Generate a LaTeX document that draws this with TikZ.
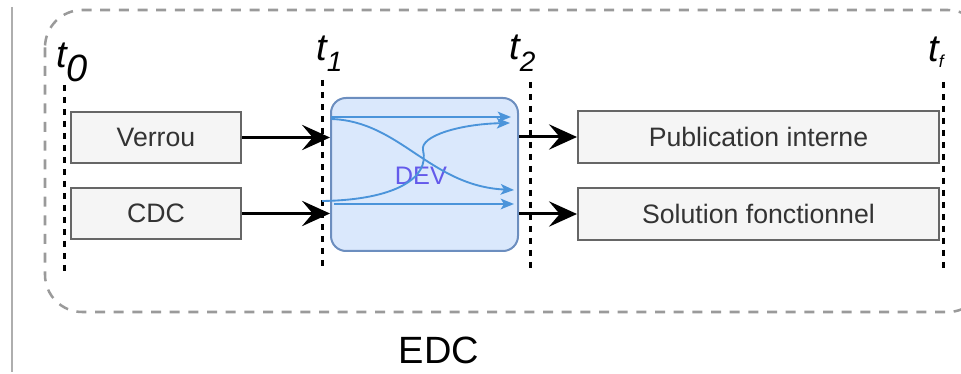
\documentclass[tikz,border=0pt]{standalone}
\usepackage{fontspec}
\setmainfont{Liberation Sans}
\usetikzlibrary{arrows.meta}
\definecolor{boxfill}{HTML}{F5F5F5}
\definecolor{boxline}{HTML}{666666}
\definecolor{boxtext}{HTML}{333333}
\definecolor{devfill}{HTML}{DAE8FC}
\definecolor{devline}{HTML}{6C8EBF}
\definecolor{devtext}{RGB}{100,90,235}
\definecolor{flow}{RGB}{75,148,218}
\definecolor{frame}{HTML}{9A9A9A}
\tikzset{
  greybox/.style={draw=boxline, fill=boxfill, line width=1.5pt, inner sep=0pt,
    anchor=north west, text=boxtext, font=\fontsize{20pt}{20pt}\selectfont},
  devbox/.style={draw=devline, fill=devfill, line width=1.5pt, rounded corners=11.25pt,
    inner sep=0pt, anchor=north west, minimum width=140.25pt, minimum height=114.75pt},
  tline/.style={line width=2.25pt, dash pattern=on 4.5pt off 4.5pt},
  bigarrow/.style={line width=2.25pt, -{Stealth[length=21pt,width=19pt,inset=8pt]}},
  flowarrow/.style={draw=flow, line width=1.4pt, -{Stealth[length=10pt,width=8pt,inset=2.5pt]}},
  tlab/.style={anchor=base west, inner sep=0pt, font=\fontsize{28.5pt}{28.5pt}\selectfont\itshape}
}
\begin{document}
\begin{tikzpicture}[x=0.75pt,y=-0.75pt]
\useasboundingbox (0,0) rectangle (961,374);
\clip (0,0) rectangle (961,374);
% left grey line
\coordinate (la) at (12,7);
\coordinate (lb) at (12,372);
\draw[color=frame!80, line width=1.2pt] (la) -- (lb);
% dashed frame
\draw[frame, line width=1.9pt, dash pattern=on 7.5pt off 6.5pt, rounded corners=28pt]
  (45,10) rectangle (985,312);
% time lines
\coordinate (t0a) at (64,85);  \coordinate (t0b) at (64,277);
\coordinate (t1a) at (322,80); \coordinate (t1b) at (322,270);
\coordinate (t2a) at (530,82); \coordinate (t2b) at (530,272);
\coordinate (tfa) at (943,82); \coordinate (tfb) at (943,272);
\draw[tline] (t0a) -- (t0b);
\draw[tline] (t1a) -- (t1b);
\draw[tline] (t2a) -- (t2b);
\draw[tline] (tfa) -- (tfb);
% time labels
\node[tlab] (t0l) at (56,68) {t\raisebox{-10.5pt}{0}};
\node[tlab] (t1l) at (316,61) {t\raisebox{-8pt}{\fontsize{21pt}{21pt}\selectfont 1}};
\node[tlab] (t2l) at (509,60) {t\raisebox{-8.5pt}{\fontsize{21pt}{21pt}\selectfont 2}};
\node[tlab] (tfl) at (928,62) {t\raisebox{-4pt}{\fontsize{13pt}{13pt}\selectfont f}};
% boxes
\node[greybox, minimum width=127.5pt, minimum height=38.25pt] (verrou) at (70,111) {Verrou};
\node[greybox, minimum width=127.5pt, minimum height=38.25pt] (cdc) at (70,187) {CDC};
\node[devbox] (dev) at (330,97) {};
\node[text=devtext, font=\fontsize{19pt}{19pt}\selectfont] (devlab) at (421,176) {DEV};
\node[greybox, minimum width=270.75pt, minimum height=39pt] (pub) at (577,110) {Publication interne};
\node[greybox, minimum width=270.75pt, minimum height=39pt] (sol) at (577,187) {Solution fonctionnel};
% black arrows
\draw[bigarrow] (verrou.east) -- (verrou.east -| dev.west);
\draw[bigarrow] (cdc.east) -- (cdc.east -| dev.west);
\draw[bigarrow] (dev.east |- pub.west) -- (pub.west);
\draw[bigarrow] (dev.east |- sol.west) -- (sol.west);
% inner flows
\coordinate (f1s) at (331,117); \coordinate (f1e) at (511,117);
\coordinate (f2s) at (331,119); \coordinate (f2e) at (514,190);
\coordinate (f3s) at (322,201); \coordinate (f3m) at (423,150); \coordinate (f3e) at (510,123);
\coordinate (f4s) at (334,204); \coordinate (f4e) at (514,204);
\draw[flowarrow] (f1s) -- (f1e);
\draw[flowarrow] (f2s) .. controls (400,121) and (430,186) .. (f2e);
\draw[flowarrow] (f3s) .. controls (395,200) and (430,178) .. (f3m)
  .. controls (420,136) and (460,124) .. (f3e);
\draw[flowarrow] (f4s) -- (f4e);
% EDC label
\node[font=\fontsize{28.5pt}{28.5pt}\selectfont] (edc) at (439,350) {EDC};
\end{tikzpicture}
\end{document}
